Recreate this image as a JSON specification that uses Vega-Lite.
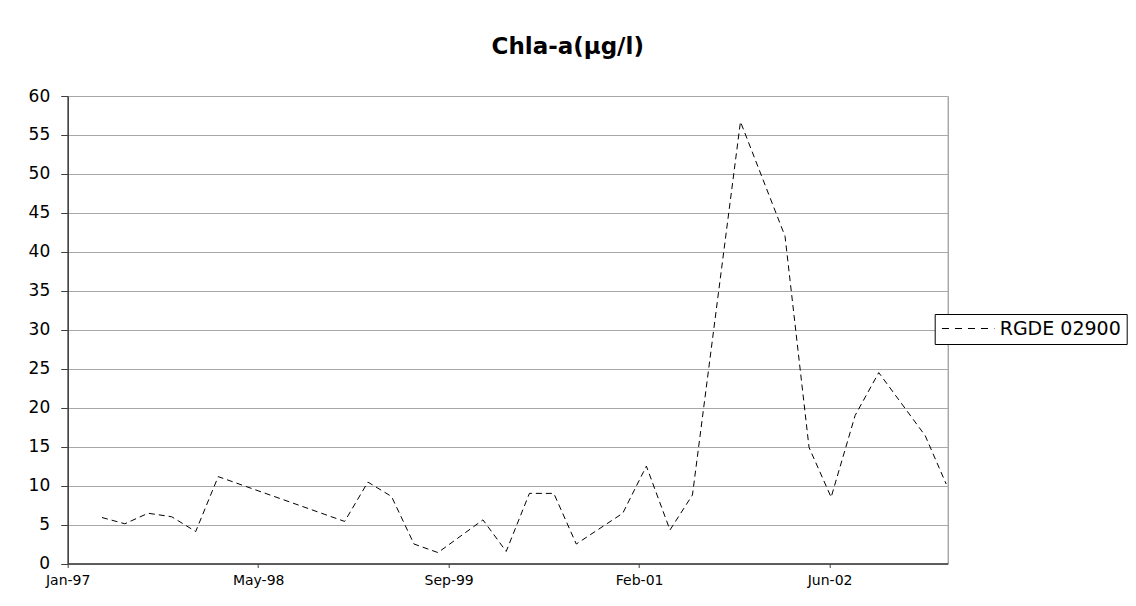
{
  "$schema": "https://vega.github.io/schema/vega-lite/v6.json",
  "autosize": {"type": "none"},
  "width": 880,
  "height": 467.5,
  "padding": {"left": 67.7, "top": 96, "right": 188.3, "bottom": 42.5},
  "background": "white",
  "title": {
    "text": "Chla-a(μg/l)",
    "font": "DejaVu Sans",
    "fontSize": 23,
    "fontWeight": "bold",
    "color": "black",
    "anchor": "middle",
    "frame": "group",
    "dx": 60,
    "offset": 28
  },
  "data": {
    "values": [
      {"date": "1997-04-01", "value": 5.9, "station": "RGDE 02900"},
      {"date": "1997-05-31", "value": 5.1, "station": "RGDE 02900"},
      {"date": "1997-07-31", "value": 6.45, "station": "RGDE 02900"},
      {"date": "1997-10-01", "value": 6.0, "station": "RGDE 02900"},
      {"date": "1997-12-03", "value": 4.1, "station": "RGDE 02900"},
      {"date": "1998-01-31", "value": 11.15, "station": "RGDE 02900"},
      {"date": "1998-12-29", "value": 5.4, "station": "RGDE 02900"},
      {"date": "1999-02-28", "value": 10.45, "station": "RGDE 02900"},
      {"date": "1999-05-01", "value": 8.6, "station": "RGDE 02900"},
      {"date": "1999-06-29", "value": 2.5, "station": "RGDE 02900"},
      {"date": "1999-08-31", "value": 1.4, "station": "RGDE 02900"},
      {"date": "1999-12-27", "value": 5.6, "station": "RGDE 02900"},
      {"date": "2000-02-26", "value": 1.55, "station": "RGDE 02900"},
      {"date": "2000-04-27", "value": 9.0, "station": "RGDE 02900"},
      {"date": "2000-06-30", "value": 9.0, "station": "RGDE 02900"},
      {"date": "2000-08-28", "value": 2.5, "station": "RGDE 02900"},
      {"date": "2000-12-28", "value": 6.45, "station": "RGDE 02900"},
      {"date": "2001-02-28", "value": 12.5, "station": "RGDE 02900"},
      {"date": "2001-05-01", "value": 4.3, "station": "RGDE 02900"},
      {"date": "2001-06-29", "value": 8.8, "station": "RGDE 02900"},
      {"date": "2001-11-02", "value": 56.7, "station": "RGDE 02900"},
      {"date": "2002-02-27", "value": 42.0, "station": "RGDE 02900"},
      {"date": "2002-05-01", "value": 14.9, "station": "RGDE 02900"},
      {"date": "2002-06-28", "value": 8.5, "station": "RGDE 02900"},
      {"date": "2002-08-30", "value": 19.0, "station": "RGDE 02900"},
      {"date": "2002-10-31", "value": 24.5, "station": "RGDE 02900"},
      {"date": "2003-03-02", "value": 16.4, "station": "RGDE 02900"},
      {"date": "2003-04-26", "value": 10.2, "station": "RGDE 02900"}
    ]
  },
  "mark": {"type": "line", "strokeWidth": 1, "strokeDash": [6, 4], "clip": true},
  "encoding": {
    "x": {
      "field": "date",
      "type": "temporal",
      "scale": {
        "type": "utc",
        "domain": [
          {"year": 1997, "month": 1, "date": 1, "utc": true},
          {"year": 2003, "month": 4, "date": 30, "utc": true}
        ]
      },
      "axis": {
        "title": null,
        "labelExpr": "utcFormat(datum.value, '%b-%y')",
        "values": [
          {"year": 1997, "month": 1, "date": 1, "utc": true},
          {"year": 1998, "month": 5, "date": 16, "utc": true},
          {"year": 1999, "month": 9, "date": 28, "utc": true},
          {"year": 2001, "month": 2, "date": 9, "utc": true},
          {"year": 2002, "month": 6, "date": 24, "utc": true}
        ],
        "grid": false,
        "domainColor": "#404040",
        "domainWidth": 1.5,
        "tickColor": "#404040",
        "tickSize": 4,
        "labelFont": "DejaVu Sans",
        "labelFontSize": 14,
        "labelColor": "black",
        "labelPadding": 6,
        "labelFlush": false
      }
    },
    "y": {
      "field": "value",
      "type": "quantitative",
      "scale": {"domain": [0, 60], "nice": false, "zero": true},
      "axis": {
        "title": null,
        "values": [0, 5, 10, 15, 20, 25, 30, 35, 40, 45, 50, 55, 60],
        "grid": true,
        "gridColor": "#a8a8a8",
        "gridWidth": 1,
        "domainColor": "#404040",
        "domainWidth": 1.5,
        "tickColor": "#404040",
        "tickSize": 7,
        "labelFont": "DejaVu Sans",
        "labelFontSize": 17,
        "labelColor": "black",
        "labelPadding": 11
      }
    },
    "color": {
      "field": "station",
      "type": "nominal",
      "scale": {"range": ["black"]},
      "legend": {
        "title": null,
        "orient": "none",
        "legendX": 867,
        "legendY": 218,
        "strokeColor": "black",
        "fillColor": "white",
        "padding": 5,
        "symbolType": "M -5 0 L 5 0",
        "symbolSize": 110,
        "symbolOffset": 19,
        "symbolStrokeWidth": 1,
        "symbolDash": [7, 6],
        "symbolStrokeColor": "black",
        "labelFont": "DejaVu Sans",
        "labelFontSize": 19,
        "labelColor": "black",
        "labelOffset": 22
      }
    }
  },
  "config": {
    "view": {"stroke": "#808080", "strokeWidth": 1}
  }
}
